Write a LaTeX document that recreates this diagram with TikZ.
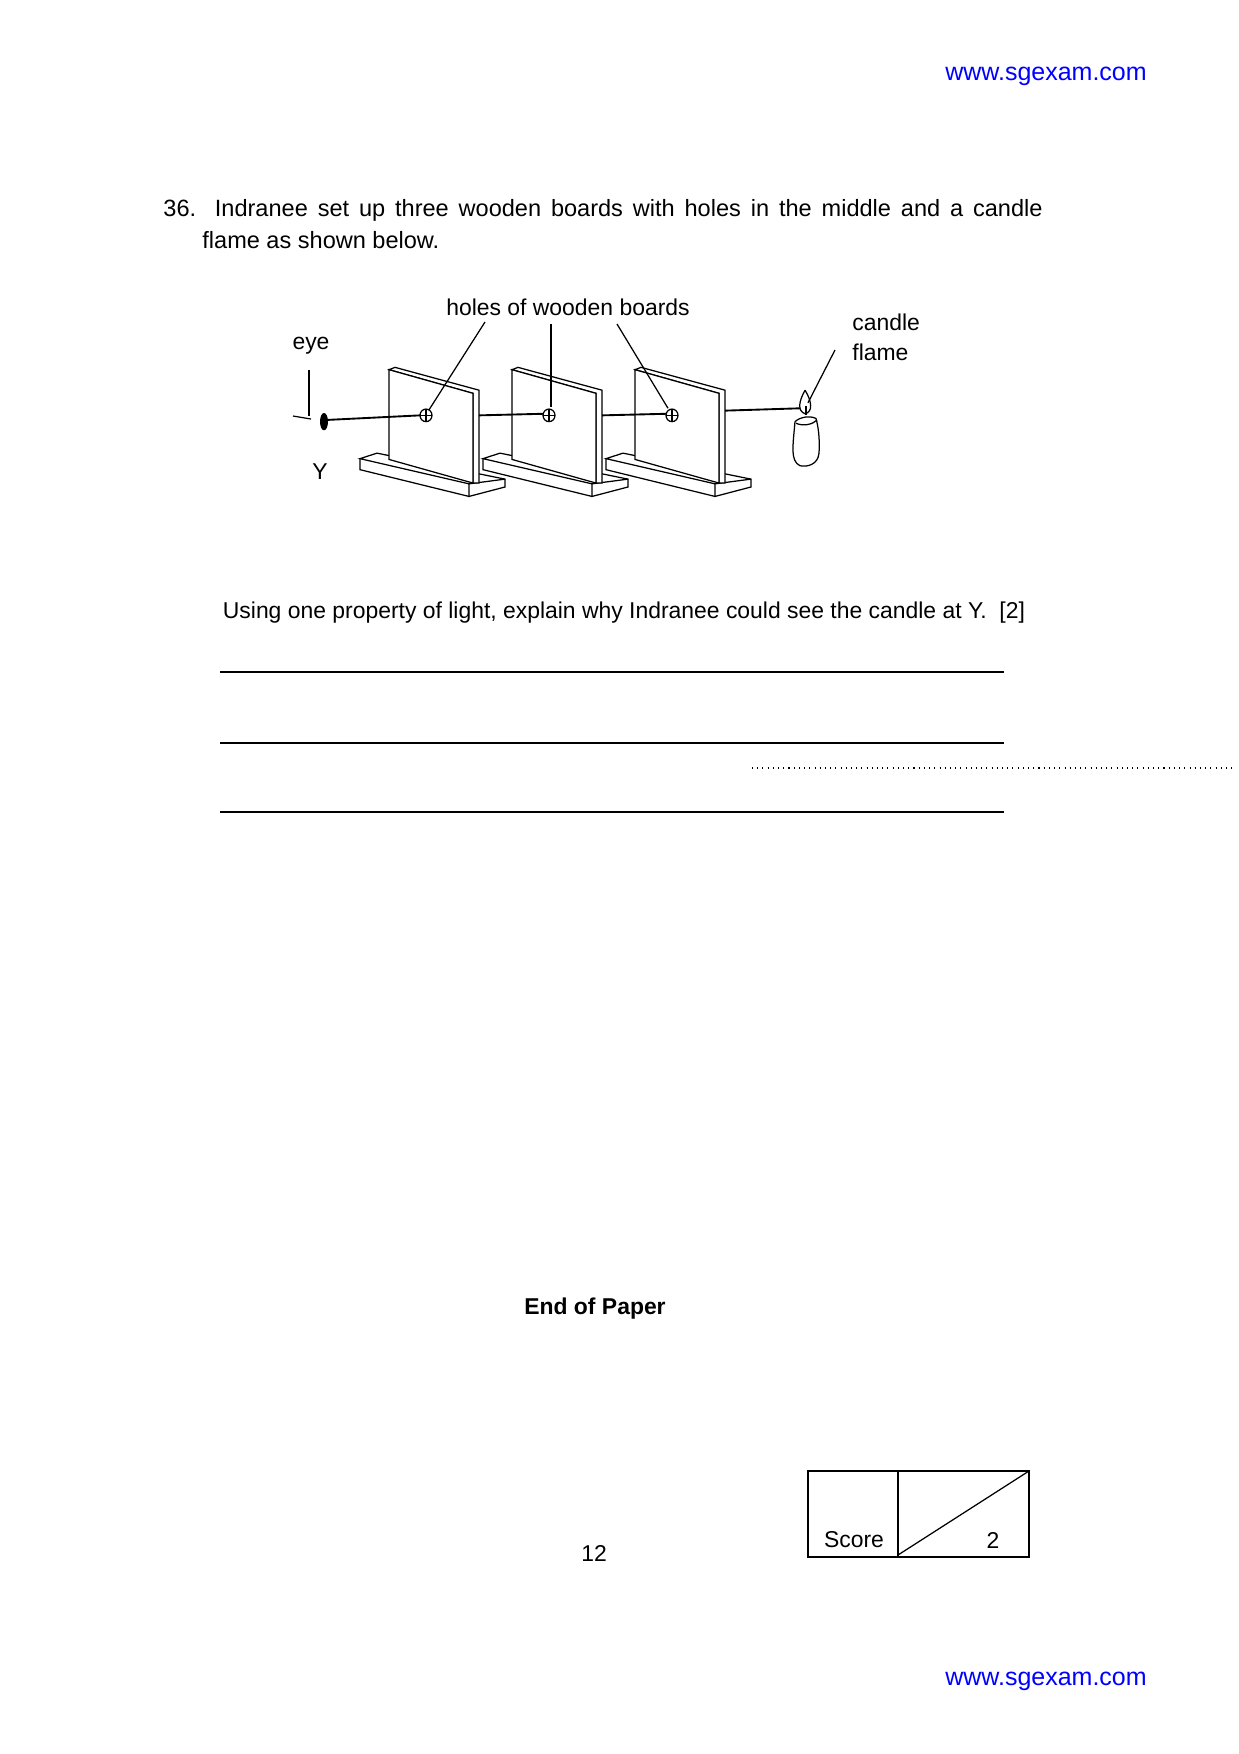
\documentclass[tikz,border=0pt]{standalone}
\usepackage{fontspec}
\setmainfont{Liberation Sans}
\usetikzlibrary{calc}
\begin{document}
\begin{tikzpicture}[x=0.48pt,y=-0.48pt,
  txt/.style={inner sep=0pt,font=\fontsize{11}{13}\selectfont},
  lbl/.style={inner sep=0pt,font=\fontsize{11}{13}\selectfont},
  web/.style={inner sep=0pt,text=blue,font=\fontsize{12}{14}\selectfont},
  thin/.style={line width=0.6pt},
  ray/.style={line width=0.9pt}]
\useasboundingbox (0,0) rectangle (1239,1754);
\node[web] (w1) at (1046,76) {www.sgexam.com};
\node[web] (w2) at (1046,1681) {www.sgexam.com};
\node[txt,anchor=west,font=\fontsize{11.3}{13}\selectfont] (q1) at (163,210) {\makebox[422pt][s]{36. Indranee set up three wooden boards with holes in the middle and a candle}};
\node[txt,anchor=west,font=\fontsize{11.3}{13}\selectfont] (q2) at (202,240) {flame as shown below.};
\begin{scope}[yshift=-28.6pt,y=-0.3778pt]
\foreach \i/\dx in {1/0,2/123,3/246}{
 \begin{scope}[xshift=\dx*0.48pt]
  \draw[thin,fill=white] (360,507) -- (377,500) -- (505,533) -- (505,543) -- (469,555) -- (469,539) -- cycle;
  \draw[thin] (360,507) -- (360,521) -- (469,555);
  \draw[thin] (469,539) -- (505,533);
  \draw[thin,fill=white] (389,394) -- (395,391) -- (479,420) -- (479,538) -- (473,538) -- (473,424) -- cycle;
  \draw[thin,fill=white] (389,394) -- (473,424) -- (473,538) -- (389,508) -- cycle;
  \coordinate (hole\i) at (426,452);
  \coordinate (r\i) at (479,452);
 \end{scope}}
\foreach \i in {1,2,3}{
 \draw[thin] (hole\i) ellipse[x radius=6,y radius=8];
 \draw[thin] ($(hole\i)+(-6,0)$) -- ($(hole\i)+(6,0)$) ($(hole\i)+(0,-8)$) -- ($(hole\i)+(0,8)$);}
\fill (324,460) ellipse[x radius=4,y radius=11];
\coordinate (eye) at (324,458);
\draw[ray] (eye) -- ($(hole1)+(-6,0)$);
\draw[ray] (r1) -- ($(hole2)+(-6,-2)$);
\draw[ray] (r2) -- ($(hole3)+(-6,-2)$);
\coordinate (cand) at (801,443);
\draw[ray] (r3) ++(0,-6) -- (cand);
\draw[thin] (795,460) .. controls (793,490) and (790,510) .. (800,516) .. controls (808,518) and (818,514) .. (819,500) .. controls (820,480) and (818,465) .. (816,456) .. controls (810,452) and (800,454) .. (795,460);
\draw[thin] (796,462) .. controls (803,466) and (812,464) .. (817,458);
\draw[thin,fill=white] (805,420) .. controls (799,434) and (797,446) .. (805,450) .. controls (813,448) and (812,434) .. (805,420);
\draw[thin] (806,440) -- (806,452);
\coordinate (h1) at (429,445);
\coordinate (h2) at (551,441);
\coordinate (h3) at (668,443);
\coordinate (fl1) at (808,436);
\end{scope}
\node[lbl] (holes) at (568,307) {holes of wooden boards};
\draw[thin] (485,322) -- (h1);
\draw[thin] (551,324) -- (h2);
\draw[thin] (617,324) -- (h3);
\node[lbl,anchor=west] (cdl) at (852,322) {candle};
\node[lbl,anchor=west] (flm) at (852,352) {flame};
\coordinate (fl0) at (835,350);
\draw[thin] (fl0) -- (fl1);
\node[lbl] (eyel) at (311,346) {eye};
\coordinate (e0) at (309,370);
\coordinate (e1) at (309,416);
\draw[thin] (e0) -- (e1);
\draw[thin] (293,416) -- (311,419);
\node[lbl] (Y) at (320,472) {Y};
\node[txt] (q3) at (624,613) {Using one property of light, explain why Indranee could see the candle at Y.\ \ [2]};
\foreach \yy in {672,743,812}{\draw[thin] (220,\yy) -- (1004,\yy);}
\draw[line width=0.5pt,dotted] (752,768) -- (1233,768);
\node[txt,font=\bfseries\fontsize{11}{13}\selectfont] (end) at (595,1309) {End of Paper};
\node[txt] (pg) at (594,1553) {12};
\draw[thin] (808,1471) rectangle (1029,1557);
\draw[thin] (898,1471) -- (898,1557);
\draw[thin] (898,1555) -- (1029,1471);
\node[txt] (sc) at (854,1540) {Score};
\node[txt] (two) at (993,1540) {2};
\end{tikzpicture}
\end{document}
